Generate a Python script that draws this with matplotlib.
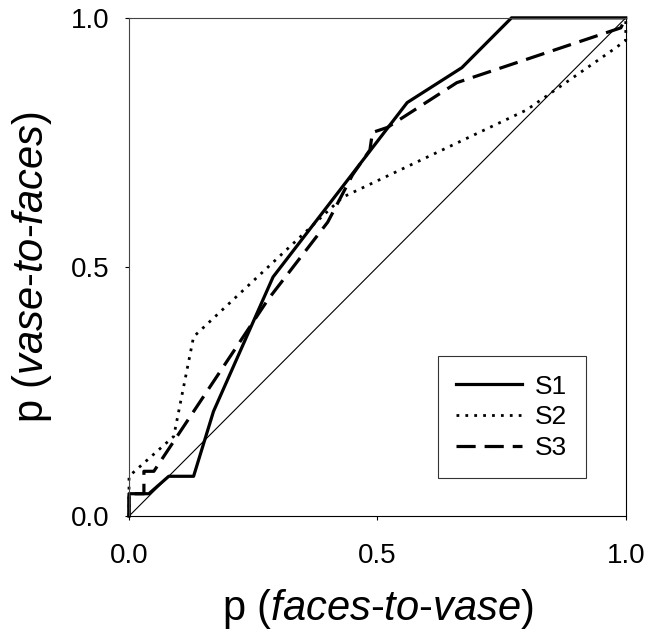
import matplotlib.pyplot as plt

plt.rcParams['font.family'] = ['Liberation Sans', 'DejaVu Sans']
plt.rcParams['mathtext.fontset'] = 'custom'
plt.rcParams['mathtext.rm'] = 'Liberation Sans'
plt.rcParams['mathtext.it'] = 'Liberation Sans:italic'

# S1 (solid)
s1_x = [0, 0, 0.04, 0.08, 0.13, 0.17, 0.29, 0.56, 0.67, 0.77, 1.0]
s1_y = [0, 0.045, 0.045, 0.08, 0.08, 0.21, 0.48, 0.83, 0.90, 1.0, 1.0]

# S2 (dotted)
s2_x = [0, 0, 0.09, 0.13, 0.43, 0.80, 0.98, 1.0, 1.0]
s2_y = [0, 0.08, 0.16, 0.36, 0.64, 0.815, 0.94, 0.955, 1.0]

# S3 (dashed)
s3_x = [0, 0, 0.03, 0.03, 0.05, 0.28, 0.40, 0.45, 0.485, 0.49, 0.52, 0.66, 0.99, 1.0]
s3_y = [0, 0.045, 0.045, 0.09, 0.09, 0.435, 0.59, 0.685, 0.735, 0.77, 0.78, 0.87, 0.98, 1.0]

ticks = [0.0, 0.5, 1.0]
tick_labels = ["0.0", "0.5", "1.0"]

fig = plt.figure(figsize=(6.65, 6.38), dpi=100)
ax = fig.add_axes([0.194, 0.191, 0.747, 0.781])

# reference diagonal
ax.plot([0, 1], [0, 1], color="black", linewidth=0.8)

ax.plot(s1_x, s1_y, color="black", linewidth=2.3, linestyle="-", label="S1", clip_on=False)
ax.plot(s2_x, s2_y, color="black", linewidth=2.0, linestyle=(0, (1, 2.2)), label="S2", clip_on=False)
ax.plot(s3_x, s3_y, color="black", linewidth=2.3, linestyle=(0, (6, 2.8)), label="S3", clip_on=False)

ax.set_xlim(0, 1)
ax.set_ylim(0, 1)
ax.set_xticks(ticks)
ax.set_xticklabels(tick_labels)
ax.set_yticks(ticks)
ax.set_yticklabels(tick_labels)
ax.tick_params(direction="out", length=3, width=0.8, labelsize=20)
ax.tick_params(axis="x", pad=16)
ax.tick_params(axis="y", pad=11)

for side in ["top", "right", "bottom", "left"]:
    ax.spines[side].set_linewidth(0.8)
    ax.spines[side].set_color("black")
ax.spines["left"].set_color("#444444")
ax.spines["top"].set_color("#444444")

ax.set_xlabel(r"p ($\it{faces}$-$\it{to}$-$\it{vase}$)", fontsize=30, labelpad=13)
ax.set_ylabel(r"p ($\it{vase}$-$\it{to}$-$\it{faces}$)", fontsize=30, labelpad=12)

leg = ax.legend(loc="lower right", bbox_to_anchor=(0.92, 0.076), fontsize=19,
                frameon=True, fancybox=False, edgecolor="black",
                handlelength=2.5, handletextpad=0.5, labelspacing=0.25,
                borderpad=0.7, borderaxespad=0)
leg.get_frame().set_linewidth(0.8)

fig.savefig("out.png", dpi=100)
